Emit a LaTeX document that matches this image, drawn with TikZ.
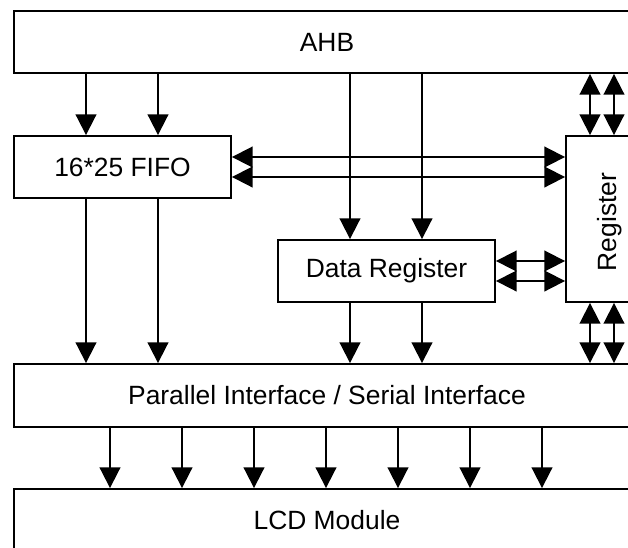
\documentclass[tikz,border=0pt]{standalone}
\usepackage{fontspec}
\setmainfont{Liberation Sans}
\usetikzlibrary{arrows.meta}
\begin{document}
\begin{tikzpicture}[x=0.75pt,y=-0.75pt,
  box/.style={draw=black, line width=1.4pt, fill=white, inner sep=0pt,
    font=\fontsize{19.8pt}{23pt}\selectfont},
  arr/.style={line width=1.4pt, -{Triangle[length=15.5pt,width=15.5pt]}},
  dbl/.style={line width=1.4pt, {Triangle[length=15.5pt,width=15.5pt]}-{Triangle[length=15.5pt,width=15.5pt]}},
  lbl/.style={inner sep=0pt, font=\fontsize{19.8pt}{23pt}\selectfont}]
\useasboundingbox (0,0) rectangle (628,547);
\clip (0,0) rectangle (628,547);
\fill[white] (0,0) rectangle (628,547);
% boxes
\node[box, minimum width=626*0.75pt, minimum height=62*0.75pt] (ahb) at (327,42) {AHB};
\node[box, minimum width=217*0.75pt, minimum height=62*0.75pt] (fifo) at (122.5,167) {16*25 FIFO};
\node[box, minimum width=88*0.75pt, minimum height=166*0.75pt] (reg) at (610,219) {};
\node[lbl, rotate=90] (regtext) at (610,222) {Register};
\node[box, minimum width=217*0.75pt, minimum height=62*0.75pt] (dr) at (386.5,271) {Data Register};
\node[box, minimum width=626*0.75pt, minimum height=63*0.75pt] (par) at (327,395.5) {Parallel Interface / Serial Interface};
\node[box, minimum width=626*0.75pt, minimum height=62*0.75pt] (lcd) at (327,520) {LCD Module};
% AHB -> FIFO, FIFO -> Parallel
\foreach \xx in {86,158}{
  \draw[arr] (ahb.south -| \xx,0) -- (fifo.north -| \xx,0);
  \draw[arr] (fifo.south -| \xx,0) -- (par.north -| \xx,0);
}
% AHB -> Data Register, Data Register -> Parallel
\foreach \xx in {350,422}{
  \draw[arr] (ahb.south -| \xx,0) -- (dr.north -| \xx,0);
  \draw[arr] (dr.south -| \xx,0) -- (par.north -| \xx,0);
}
% AHB <-> Register, Register <-> Parallel
\foreach \xx in {590,614}{
  \draw[dbl] (ahb.south -| \xx,0) -- (reg.north -| \xx,0);
  \draw[dbl] (reg.south -| \xx,0) -- (par.north -| \xx,0);
}
% FIFO <-> Register
\foreach \dy in {7.5pt,-7.5pt}{
  \draw[dbl] ([yshift=\dy]fifo.east) -- ([yshift=\dy]fifo.east -| reg.west);
  \draw[dbl] ([yshift=\dy]dr.east) -- ([yshift=\dy]dr.east -| reg.west);
}
% Parallel -> LCD
\foreach \xx in {110,182,254,326,398,470,542}{
  \draw[arr] (par.south -| \xx,0) -- (lcd.north -| \xx,0);
}
\end{tikzpicture}
\end{document}
